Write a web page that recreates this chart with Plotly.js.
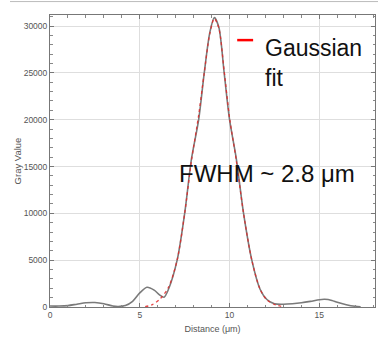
<!DOCTYPE html>
<html>
<head>
<meta charset="utf-8">
<script src="https://cdn.plot.ly/plotly-3.0.1.min.js"></script>
<style>html,body{margin:0;padding:0;background:#fff;}#chart{width:378px;height:348px;}</style>
</head>
<body>
<div id="chart"></div>
<script>
var profileX = [0, 0.5, 1, 1.5, 2, 2.5, 3, 3.5, 3.8, 4.2, 4.6, 5, 5.4, 5.8, 6.1, 6.35, 6.6, 7.08, 7.5, 7.87, 8.28, 8.59, 8.9, 9.15, 9.4, 9.7, 10.0, 10.37, 10.78, 11.24, 11.7, 12.08, 12.5, 13, 13.5, 14, 14.5, 15, 15.3, 15.7, 16, 16.5, 17, 17.3];
var profileY = [100, 100, 150, 300, 450, 480, 350, 100, 50, 150, 600, 1500, 2100, 1800, 1300, 1050, 1900, 5000, 10000, 15700, 20000, 25000, 29300, 30900, 29900, 25000, 20000, 15900, 10000, 5000, 1900, 800, 350, 300, 350, 450, 600, 780, 820, 700, 500, 250, 80, 30];
// Gaussian fit
var fitX = [5.3, 5.7, 6.15, 6.6, 7.08, 7.5, 7.87, 8.28, 8.59, 8.9, 9.15, 9.4, 9.7, 10.0, 10.37, 10.78, 11.24, 11.7, 12.08, 12.6, 13.0];
var fitY = [30, 250, 900, 2100, 5000, 10000, 15500, 20500, 25000, 29200, 30800, 29800, 25200, 20200, 15700, 10000, 5000, 1900, 750, 200, 40];
var xTitle = 'Distance (μm)';
var yTitle = 'Gray Value';
var legendText = 'Gaussian<br>fit';
var fwhmText = 'FWHM ~ 2.8 μm';

var tickFont = {family: 'Liberation Sans Narrow, Arial Narrow, Liberation Sans, sans-serif', size: 8.5, color: '#555'};
var axisCommon = {
  showline: true, linecolor: '#777', linewidth: 1, mirror: 'allticks',
  ticks: 'inside', ticklen: 4, tickcolor: '#777', tickwidth: 1,
  showgrid: true, gridcolor: '#dedede', gridwidth: 1,
  zeroline: false, tickfont: tickFont, tickformat: 'd'
};

var traces = [
  {x: profileX, y: profileY, type: 'scatter', mode: 'lines', line: {color: '#7a7a7a', width: 1.6, shape: 'spline', smoothing: 0.8}, hoverinfo: 'none', showlegend: false},
  {x: fitX, y: fitY, type: 'scatter', mode: 'lines', line: {color: 'rgba(225,40,40,0.85)', width: 1.3, shape: 'spline', smoothing: 0.8, dash: 'dot'}, hoverinfo: 'none', showlegend: false}
];

var layout = {
  width: 378, height: 348,
  margin: {l: 50, r: 3, t: 15, b: 41},
  paper_bgcolor: '#fff', plot_bgcolor: '#fff',
  showlegend: false,
  xaxis: Object.assign({}, axisCommon, {
    range: [0, 18.1], dtick: 5, tick0: 0,
    minor: {dtick: 1, ticks: 'inside', ticklen: 2.5, tickcolor: '#888', showgrid: false},
    title: {text: xTitle, font: {family: 'Liberation Sans Narrow, Liberation Sans, sans-serif', size: 9, color: '#555'}, standoff: 6}
  }),
  yaxis: Object.assign({}, axisCommon, {
    range: [0, 31180], dtick: 5000, tick0: 0,
    minor: {dtick: 1000, ticks: 'inside', ticklen: 2.5, tickcolor: '#888', showgrid: false},
    title: {text: yTitle, font: {family: 'Liberation Sans, sans-serif', size: 9.5, color: '#555'}, standoff: 0}
  }),
  shapes: [
    {type: 'line', xref: 'paper', yref: 'paper', x0: -0.123, x1: 1.01, y0: 1.046, y1: 1.046, line: {color: '#bbb', width: 1}},
    {type: 'line', xref: 'paper', yref: 'paper', x0: 0.576, x1: 0.625, y0: 0.914, y1: 0.914, line: {color: '#ff0000', width: 2.5}}
  ],
  annotations: [
    {text: legendText, xref: 'paper', yref: 'paper', x: 0.656, y: 0.836, xanchor: 'left', yanchor: 'middle', align: 'left', showarrow: false,
     font: {family: 'Liberation Sans, Arial, sans-serif', size: 23, color: '#111'}},
    {text: fwhmText, xref: 'paper', yref: 'paper', x: 0.392, y: 0.458, xanchor: 'left', yanchor: 'middle', showarrow: false,
     font: {family: 'Liberation Sans, Arial, sans-serif', size: 24, color: '#111'}}
  ]
};

Plotly.newPlot('chart', traces, layout, {staticPlot: true, displayModeBar: false});
</script>
</body>
</html>
